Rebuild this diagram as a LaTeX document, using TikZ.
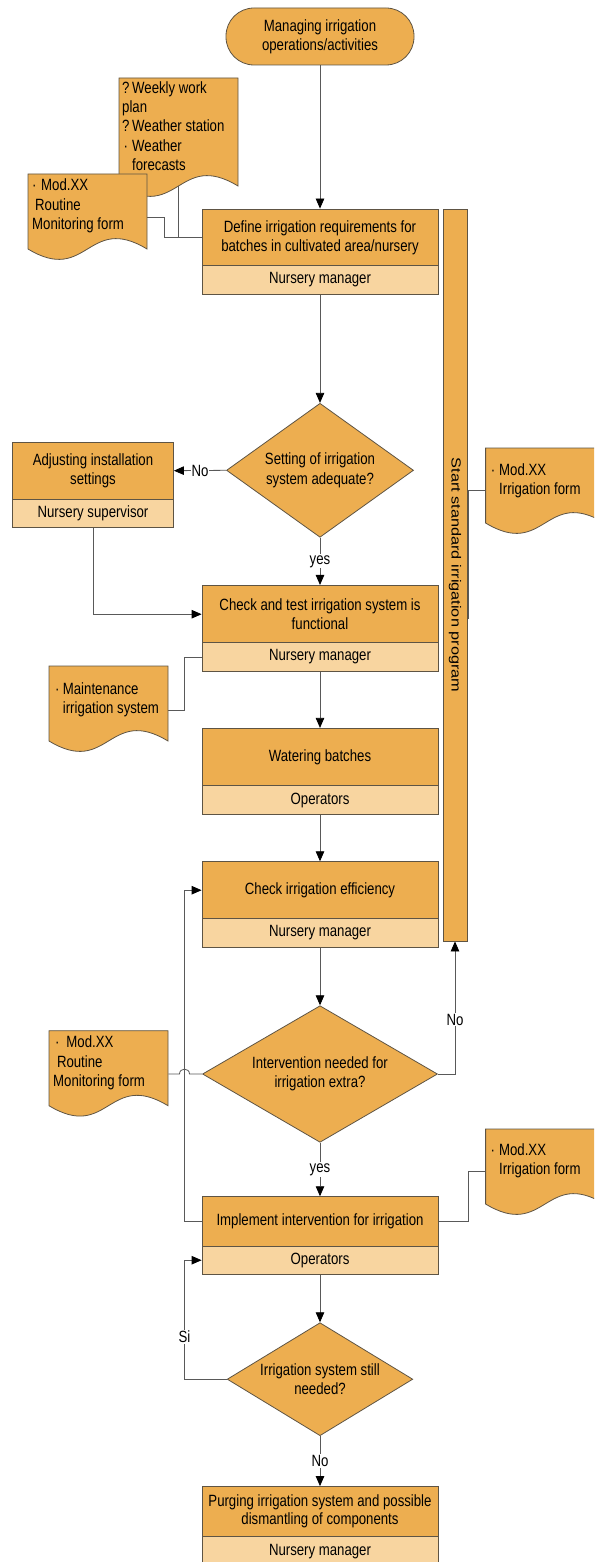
\documentclass[tikz,border=0pt]{standalone}
\usepackage{fontspec}
\setmainfont{Liberation Sans}[FakeStretch=0.81]
\newfontfamily\barfont{Liberation Sans}
\usetikzlibrary{shapes.geometric,arrows.meta,calc}
\definecolor{orng}{HTML}{EDAE50}
\definecolor{lanec}{HTML}{F8D5A0}
\definecolor{edgec}{HTML}{5E5444}
\definecolor{wire}{HTML}{595959}
\pgfdeclarelayer{bg}
\pgfsetlayers{bg,main}
\tikzset{
  basefont/.style={font=\fontsize{16.3}{19.3}\selectfont},
  procbox/.style={rectangle, draw=edgec, fill=orng, line width=0.8pt, minimum width=236pt, inner sep=0pt, align=center, basefont},
  lanebox/.style={rectangle, draw=edgec, fill=lanec, line width=0.8pt, minimum width=236pt, minimum height=28.3pt, inner sep=0pt, align=center, basefont},
  termbox/.style={rectangle, rounded corners=28pt, draw=edgec, fill=orng, line width=0.8pt, inner sep=0pt, align=center, basefont},
  diam/.style={diamond, draw=edgec, fill=orng, line width=0.8pt, inner sep=0pt},
  intext/.style={align=center, inner sep=0pt, basefont},
  doctext/.style={align=left, inner sep=0pt, basefont},
  docfill/.style={draw=edgec, fill=orng, line width=0.8pt},
  docnode/.style={rectangle, draw=none, inner sep=0pt, minimum width=119pt},
  conn/.style={draw=wire, line width=0.8pt},
  arr/.style={conn, -{Triangle[length=10pt,width=8.5pt,color=black]}},
  lbl/.style={fill=white, inner sep=1pt, basefont},
}
\newcommand\docshape[4]{%
  \path[docfill] (#2,#3) -- ({#2+119},#3) -- ({#2+119},{#3+#4})
    .. controls ({#2+59.5},{#3+#4-36}) and ({#2+59.5},{#3+#4+36}) .. (#2,{#3+#4}) -- cycle;
  \node[docnode, minimum height=#4pt, anchor=north west] (#1) at (#2,#3) {};
}
\begin{document}
\begin{tikzpicture}[x=1pt,y=-1pt]
\useasboundingbox (0,0) rectangle (594,1562);
\clip (0,0) rectangle (594,1562);

% start terminal
\node[termbox, minimum width=188pt, minimum height=57pt] (start) at (320,36.5) {Managing irrigation\\operations/activities};

% vertical bar
\node[rectangle, draw=edgec, fill=orng, line width=0.8pt, inner sep=0pt, minimum width=24pt, minimum height=732pt] (bar) at (455,575) {};
\node[rotate=-90, yscale=0.81, inner sep=0pt, font=\barfont\fontsize{16.3}{19.3}\selectfont] (bart) at (bar.center) {Start standard irrigation program};

% process boxes
\node[procbox, minimum height=57pt] (define) at (320,237.5) {Define irrigation requirements for\\batches in cultivated area/nursery};
\node[lanebox] (defineL) at (320,280) {Nursery manager};

\node[procbox, minimum width=161pt, minimum height=57.3pt] (adj) at (93,470.7) {Adjusting installation\\settings};
\node[lanebox, minimum width=161pt] (adjL) at (93,513.5) {Nursery supervisor};

\node[procbox, minimum height=57.7pt] (check) at (320,614.2) {Check and test irrigation system is\\functional};
\node[lanebox] (checkL) at (320,657) {Nursery manager};

\node[procbox, minimum height=57.4pt] (water) at (320,757) {Watering batches};
\node[lanebox] (waterL) at (320,800) {Operators};

\node[procbox, minimum height=57pt] (eff) at (320,890.2) {Check irrigation efficiency};
\node[lanebox] (effL) at (320,933) {Nursery manager};

\node[procbox, minimum height=49.3pt] (impl) at (320,1221.3) {Implement intervention for irrigation};
\node[lanebox] (implL) at (320,1260.2) {Operators};

\node[procbox, minimum height=50.2pt] (purge) at (320,1511.6) {Purging irrigation system and possible\\[-1.3pt]dismantling of components};
\node[lanebox, minimum height=29pt] (purgeL) at (320,1551.2) {Nursery manager};

% diamonds
\node[diam, minimum width=187pt, minimum height=134pt] (d1) at (320,470.3) {};
\node[intext] (d1t) at (d1.center) {Setting of irrigation\\system adequate?};
\node[diam, minimum width=235pt, minimum height=136.6pt] (d2) at (320,1074) {};
\node[intext] (d2t) at (d2.center) {Intervention needed for\\irrigation extra?};
\node[diam, minimum width=185.6pt, minimum height=113pt] (d3) at (320,1379.2) {};
\node[intext] (d3t) at (d3.center) {Irrigation system still\\needed?};

% documents
\docshape{weekly}{119}{78}{108}
\node[doctext, anchor=west] (weeklyt) at (122,126) {\makebox[10pt][l]{?}Weekly work\\plan\\\makebox[10pt][l]{?}Weather station\\\makebox[10pt][l]{\hspace*{1.5pt}·}Weather\\\hspace*{10pt}forecasts};
\docshape{r1}{28}{174}{75}
\node[doctext, anchor=west] (r1t) at (32,206) {\makebox[9pt][l]{·}Mod.XX\\\hspace*{3pt}Routine\\Monitoring form};
\docshape{irr1}{485.6}{448}{75}
\node[doctext, anchor=west] (irr1t) at (490.7,480.5) {\makebox[8.3pt][l]{·}Mod.XX\\\hspace*{8.3pt}Irrigation form};
\docshape{maint}{49}{666}{75}
\node[doctext, anchor=west] (maintt) at (55,700) {\makebox[7.7pt][l]{·}Maintenance\\\hspace*{7.7pt}irrigation system};
\docshape{r2}{49}{1030.7}{75}
\node[doctext, anchor=west] (r2t) at (53,1062.8) {\hspace*{2pt}\makebox[11.3pt][l]{·}Mod.XX\\\hspace*{3.8pt}Routine\\Monitoring form};
\docshape{irr2}{485.6}{1129}{75}
\node[doctext, anchor=west] (irr2t) at (490.5,1161) {\makebox[8.4pt][l]{·}Mod.XX\\\hspace*{8.4pt}Irrigation form};

\coordinate (loopx) at (184.5,0);
\coordinate (irr1end) at (468,619);
\coordinate (r1out) at ([yshift=-5.5pt]r1.east);
\coordinate (mout) at ([yshift=-6.5pt]maint.east);
\coordinate (irr1in) at ([yshift=-5pt]irr1.west);
\coordinate (irr2in) at ([yshift=-5pt]irr2.west);
\coordinate (hop) at (loopx |- d2.west);

\begin{pgfonlayer}{bg}
\draw[arr] (start.south) -- (define.north);
\draw[conn] (r1out) -- ++(17,0) |- (define.west);
\draw[conn] (weekly.south) -- (weekly.south |- define.west);
\draw[arr] (defineL.south) -- (d1.north);
\draw[arr] (d1.west) -- node[lbl] {No} (adj.east);
\draw[arr] (d1.south) -- node[lbl] {yes} (check.north);
\draw[arr] (adjL.south) |- (check.west);
\draw[conn] (mout) -- (loopx |- mout) |- (checkL.west);
\draw[conn] (irr1in) -| (irr1end);
\draw[arr] (checkL.south) -- (water.north);
\draw[arr] (waterL.south) -- (eff.north);
\draw[arr] (effL.south) -- (d2.north);
\draw[arr] (d2.east) -| node[lbl, pos=0.705] {No} (bar.south);
\draw[conn] (r2.east |- d2.west) -- ($(hop)+(-5,0)$)
   .. controls ($(hop)+(-5,-6.5)$) and ($(hop)+(5,-6.5)$) .. ($(hop)+(5,0)$) -- (d2.west);
\draw[arr] (d2.south) -- node[lbl] {yes} (impl.north);
\draw[arr] (impl.west) -- (loopx |- impl.west) |- (eff.west);
\draw[conn] (impl.east) -- ++(30,0) |- (irr2in);
\draw[arr] (implL.south) -- (d3.north);
\draw[arr] (d3.west) -- (loopx |- d3.west) -- node[lbl, pos=0.355] {Si} (loopx |- implL.west) -- (implL.west);
\draw[arr] (d3.south) -- node[lbl] {No} (purge.north);
\end{pgfonlayer}
\end{tikzpicture}
\end{document}
